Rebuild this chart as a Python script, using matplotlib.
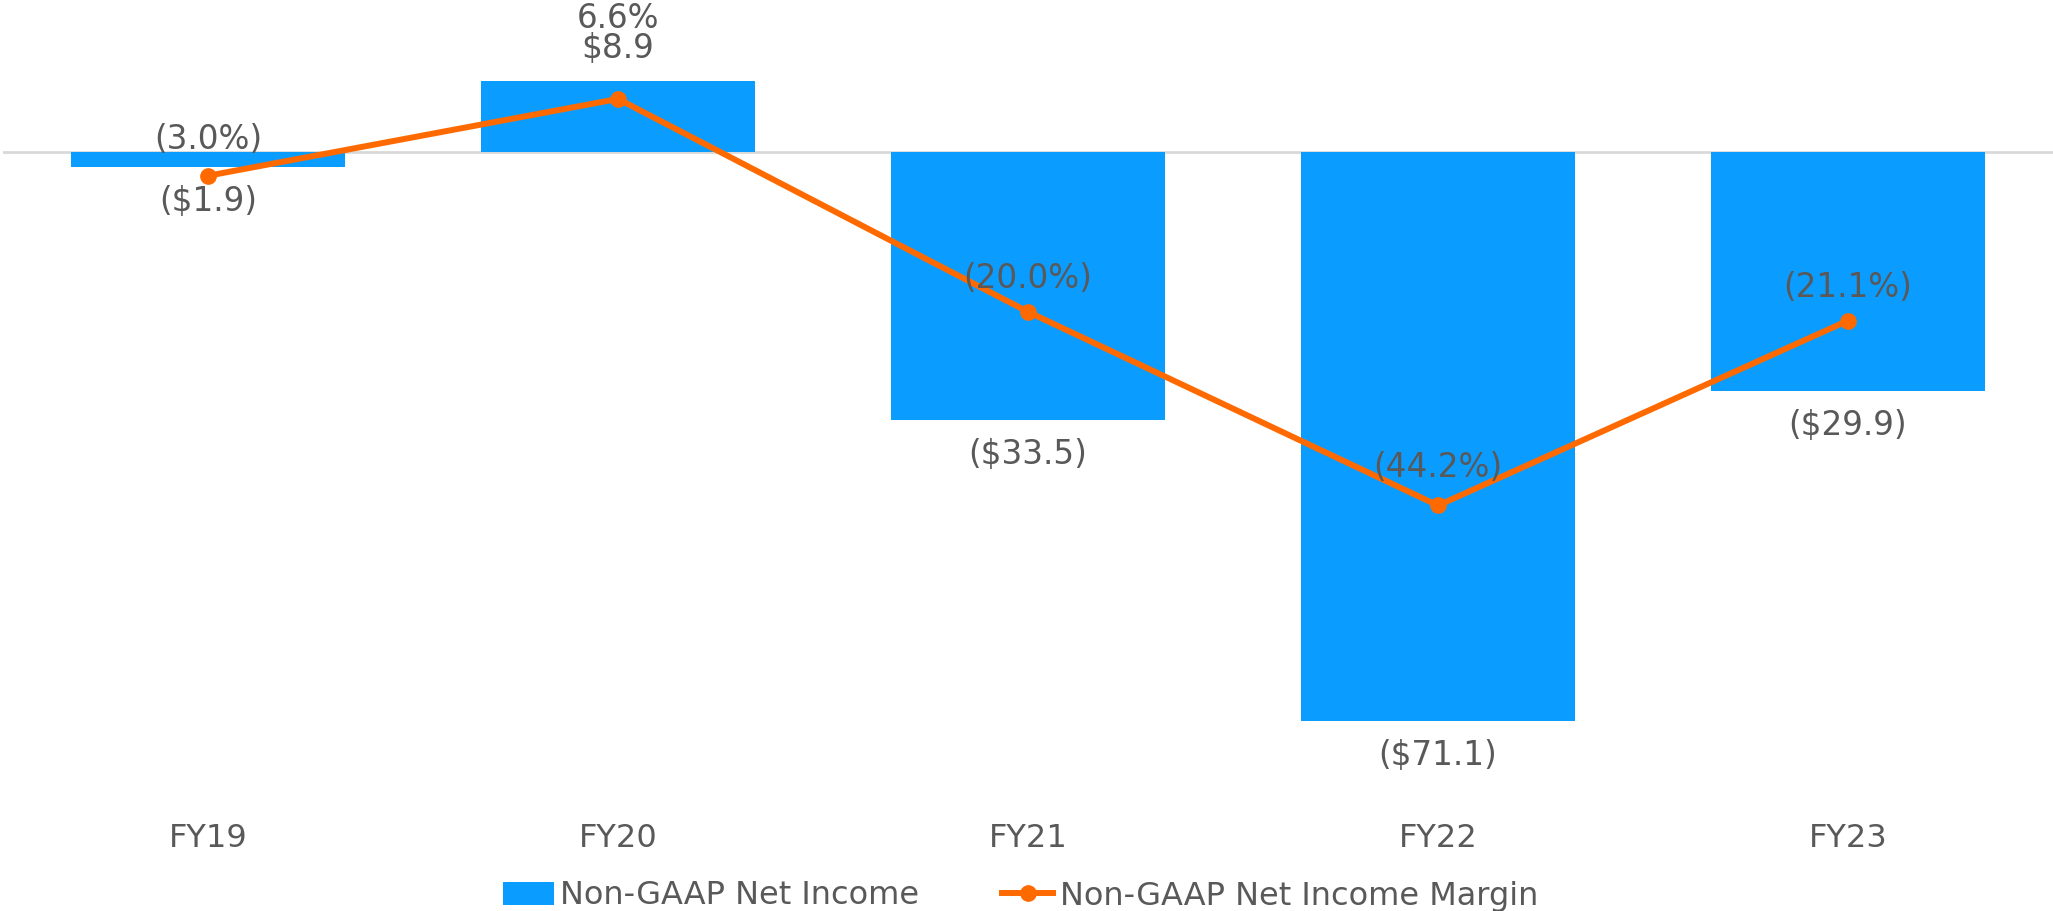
import matplotlib
matplotlib.use("Agg")
import matplotlib.pyplot as plt
from matplotlib.patches import Patch
from matplotlib.lines import Line2D

categories = ["FY19", "FY20", "FY21", "FY22", "FY23"]
net_income = [-1.9, 8.9, -33.5, -71.1, -29.9]
net_margin = [-3.0, 6.6, -20.0, -44.2, -21.1]
income_labels = ["($1.9)", "$8.9", "($33.5)", "($71.1)", "($29.9)"]
margin_labels = ["(3.0%)", "6.6%", "(20.0%)", "(44.2%)", "(21.1%)"]

BAR = "#0A9CFF"
LINE = "#FF6A00"
TXT = "#595959"
FS = 23
FS_LAB = 23.5

fig = plt.figure(figsize=(20.53, 9.11), dpi=100)
ax = fig.add_axes([3 / 2053, (911 - 792) / 911, 1 - 3 / 2053, 792 / 911])
x = list(range(len(categories)))
ax.bar(x, net_income, width=0.667, color=BAR, zorder=2)
ax.axhline(0, color="#D9D9D9", lw=2, zorder=1)
ax.plot(x, net_margin, color=LINE, lw=4.3, marker="o", ms=11, zorder=3)

ax.set_xlim(-0.5, 4.5)
ax.set_ylim(-80, 18.96)
ax.set_yticks([])
ax.set_xticks(x)
ax.set_xticklabels(categories, fontsize=FS, color=TXT)
ax.tick_params(axis="x", length=0, pad=22)
for s in ax.spines.values():
    s.set_visible(False)

# bar value labels (points offset from bar end)
for xi, v, lab in zip(x, net_income, income_labels):
    off = 23 if v >= 0 else -25
    ax.annotate(lab, (xi, v), xytext=(0, off), textcoords="offset points",
                ha="center", va="center", fontsize=FS_LAB, color=TXT, zorder=4)

# margin labels above markers
margin_offsets = [26, 58, 24, 27, 24]
for xi, v, lab, off in zip(x, net_margin, margin_labels, margin_offsets):
    ax.annotate(lab, (xi, v), xytext=(0, off), textcoords="offset points",
                ha="center", va="center", fontsize=FS_LAB, color=TXT, zorder=4)

handles = [Patch(facecolor=BAR, edgecolor="none"),
           Line2D([], [], color=LINE, lw=4.3, marker="o", ms=11)]
fig.legend(handles, ["Non-GAAP Net Income", "Non-GAAP Net Income Margin"],
           loc="center", bbox_to_anchor=(0.497, 15 / 911), ncol=2, frameon=False,
           fontsize=FS, labelcolor=TXT, handlelength=1.6, handletextpad=0.2,
           columnspacing=2.6, borderpad=0)

fig.savefig("out.png", dpi=100)
